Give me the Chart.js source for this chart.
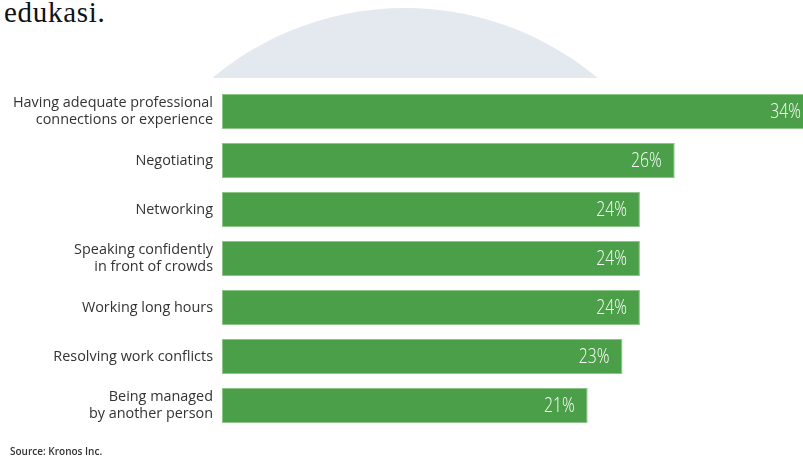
<!DOCTYPE html>
<html>
<head>
<meta charset="utf-8">
<script src="https://cdn.jsdelivr.net/npm/chart.js@4"></script>
<style>
  html, body { margin: 0; padding: 0; background: #fff; overflow: hidden; }
  #page { position: relative; width: 803px; height: 457px; overflow: hidden; }
  #arc { position: absolute; left: 0; top: 0; width: 803px; height: 78px; overflow: hidden; }
  #arc div { position: absolute; left: 105px; top: 8px; width: 600px; height: 600px; border-radius: 50%; background: #e4e8ef; }
  #lead { position: absolute; left: 4px; top: -4px; font-family: "Liberation Serif", serif; font-size: 29px; letter-spacing: 0.7px; line-height: 32px; color: #111; }
  #src { position: absolute; left: 10px; top: 444px; font-family: "Open Sans", sans-serif; font-size: 10px; font-weight: 600; line-height: 14px; color: #333; }
  #wrap { position: absolute; left: 0; top: 0; width: 815px; height: 457px; }
</style>
</head>
<body>
<div id="page">
  <div id="arc"><div></div></div>
  <div id="lead">edukasi.</div>
  <div id="wrap"><canvas id="skills" width="815" height="457"></canvas></div>
  <div id="src">Source: Kronos Inc.</div>
</div>
<script>
const skillLabels = [
  ["Having adequate professional", "connections or experience"],
  "Negotiating",
  "Networking",
  ["Speaking confidently", "in front of crowds"],
  "Working long hours",
  "Resolving work conflicts",
  ["Being managed", "by another person"]
];
const skillShare = [34, 26, 24, 24, 24, 23, 21];

// percentage written inside the right end of each bar, squeezed into a narrow face
const barValues = {
  id: 'barValues',
  afterDatasetsDraw(chart) {
    const ctx = chart.ctx;
    const meta = chart.getDatasetMeta(0);
    const squeeze = 0.75;
    ctx.save();
    ctx.font = '300 21px "Open Sans", sans-serif';
    ctx.fillStyle = '#fff';
    ctx.textAlign = 'right';
    ctx.textBaseline = 'middle';
    meta.data.forEach((bar, i) => {
      ctx.save();
      ctx.translate(bar.x - 13, bar.y + 1);
      ctx.scale(squeeze, 1);
      ctx.fillText(skillShare[i] + '%', 0, 0);
      ctx.restore();
    });
    ctx.restore();
  }
};

let c = document.getElementById('skills').getContext('2d');
new Chart(c, {
  type: 'bar',
  data: {
    labels: skillLabels,
    datasets: [{
      data: skillShare,
      backgroundColor: '#4b9f48',
      borderColor: '#8cc585',
      borderWidth: 1,
      borderSkipped: false,
      categoryPercentage: 1,
      barPercentage: 0.714
    }]
  },
  options: {
    indexAxis: 'y',
    responsive: false,
    animation: false,
    devicePixelRatio: 1,
    layout: { padding: { top: 87, bottom: 27, left: 0, right: 1 } },
    plugins: { legend: { display: false }, tooltip: { enabled: false } },
    scales: {
      x: { display: false, min: 0, max: 34 },
      y: {
        grid: { display: false, drawTicks: false },
        border: { display: false },
        afterFit(scale) { scale.width = 222; },
        ticks: {
          padding: 9,
          color: '#333',
          font: { family: '"Open Sans", sans-serif', size: 14.4, lineHeight: 1.15 }
        }
      }
    }
  },
  plugins: [barValues]
});
</script>
</body>
</html>
